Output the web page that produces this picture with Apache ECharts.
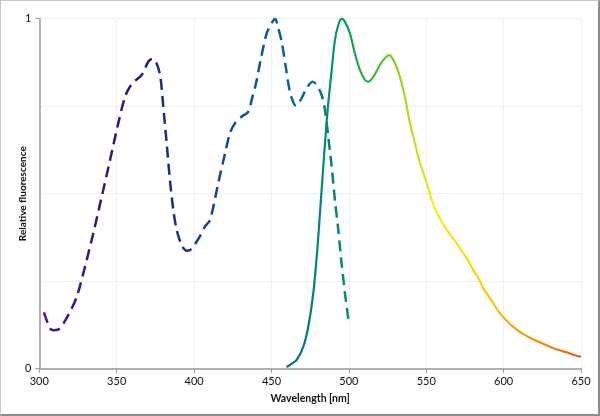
<!DOCTYPE html>
<html>
<head>
<meta charset="utf-8">
<script src="https://cdn.jsdelivr.net/npm/echarts@6/dist/echarts.min.js"></script>
<style>
html,body{margin:0;padding:0;background:#fff;}
#frame{position:absolute;left:0;top:0;width:600px;height:416px;box-sizing:border-box;border-top:1px solid #c8c8c8;border-left:1px solid #c8c8c8;border-right:2px solid #8c8c8c;border-bottom:2px solid #8c8c8c;}
#chart{position:absolute;left:0;top:0;width:600px;height:416px;}
</style>
</head>
<body>
<div id="chart"></div>
<div id="frame"></div>
<script>
// Excitation spectrum (dashed)
const excitationWavelength = [303.0,306.9,309.0,312.3,318.7,324.2,329.5,334.9,340.3,345.7,351.0,355.4,358.6,361.8,366.1,370.4,372.6,374.7,378.0,380.1,382.3,384.4,386.6,388.8,392.0,395.2,397.4,400.6,404.0,407.0,410.3,415.6,420.0,423.2,426.4,430.7,435.0,437.2,440.0,443.0,446.9,450.1,452.3,454.4,456.6,459.4,462.0,465.8,469.5,472.7,476.6,479.2,482.4,484.6,486.7,488.9,491.0,493.2,495.3,497.5,500.0];
const excitationValue = [0.161,0.115,0.110,0.112,0.153,0.206,0.291,0.387,0.491,0.596,0.701,0.777,0.806,0.822,0.839,0.877,0.884,0.882,0.839,0.749,0.644,0.539,0.453,0.396,0.353,0.337,0.339,0.356,0.380,0.406,0.425,0.530,0.615,0.673,0.701,0.720,0.734,0.768,0.815,0.882,0.958,0.987,1.0,0.973,0.934,0.858,0.791,0.751,0.773,0.801,0.820,0.811,0.782,0.739,0.663,0.577,0.482,0.396,0.301,0.215,0.130];
// Emission spectrum (solid)
const emissionWavelength = [459.8,463.0,466.3,470.6,473.8,477.0,479.6,481.8,484.1,486.3,488.9,491.0,493.2,495.3,497.5,500.7,503.9,507.2,510.4,512.5,515.8,520.1,523.3,526.1,529.8,533.0,536.2,539.5,542.7,545.5,550.3,554.5,557.0,561.0,565.0,569.6,573.9,576.1,580.4,583.6,586.8,589.0,593.3,596.5,600.0,604.0,608.4,613.0,619.1,624.0,629.9,635.0,640.7,645.0,650.0];
const emissionValue = [0.005,0.014,0.025,0.063,0.120,0.215,0.339,0.473,0.615,0.739,0.853,0.939,0.982,1.0,0.991,0.958,0.901,0.853,0.825,0.820,0.834,0.868,0.887,0.896,0.873,0.834,0.777,0.701,0.644,0.595,0.530,0.470,0.445,0.412,0.386,0.358,0.330,0.316,0.282,0.260,0.230,0.215,0.187,0.165,0.146,0.128,0.112,0.098,0.084,0.074,0.063,0.054,0.047,0.040,0.034];
const xTicks = [300,350,400,450,500,550,600,650];
const yTicks = [0,1];
const excitationColors = ['#4b1686','#34197e','#1c2074','#1a3a8c','#0f50a0','#0a6598','#0a9060'];
const emissionColors = ['#10608a','#00867a','#06a055','#4ab23a','#a8d824','#f2f01c','#f5e012','#f4c410','#f0a614','#ea8214','#e05a14'];

const pairs = (xs, ys) => xs.map((x, i) => [x, ys[i]]);
const font = 'Lato, "Open Sans", sans-serif';

const chart = echarts.init(document.getElementById('chart'), null, {renderer: 'canvas'});
chart.setOption({
  animation: false,
  backgroundColor: '#fff',
  grid: {left: 39.3, right: 19, top: 18.7, bottom: 47.3, containLabel: false, outerBoundsMode: 'none'},
  xAxis: {
    type: 'value', min: xTicks[0], max: xTicks[xTicks.length - 1], interval: 50,
    name: 'Wavelength [nm]', nameLocation: 'middle', nameGap: 24, nameMoveOverlap: false,
    nameTextStyle: {fontFamily: font, fontWeight: 'bold', fontSize: 10.5, color: '#111'},
    axisLine: {lineStyle: {color: '#9a9a9a', width: 1.5}},
    axisTick: {show: true, length: 4, lineStyle: {color: '#9a9a9a'}},
    axisLabel: {fontFamily: font, fontSize: 11, color: '#111', margin: 7},
    splitLine: {show: true, lineStyle: {color: '#f0f0f0', width: 1}}
  },
  yAxis: {
    type: 'value', min: yTicks[0], max: yTicks[1], interval: 1,
    name: 'Relative fluorescence', nameLocation: 'middle', nameGap: 12, nameMoveOverlap: false,
    nameTextStyle: {fontFamily: font, fontWeight: 'bold', fontSize: 10, color: '#111'},
    axisLine: {show: true, lineStyle: {color: '#9a9a9a', width: 1.5}},
    axisTick: {show: true, length: 4, lineStyle: {color: '#9a9a9a'}},
    axisLabel: {fontFamily: font, fontSize: 11, color: '#111', margin: 8},
    splitLine: {show: true, lineStyle: {color: '#f0f0f0', width: 1}},
    minorTick: {show: false, splitNumber: 4},
    minorSplitLine: {show: true, lineStyle: {color: '#f0f0f0', width: 1}}
  },
  visualMap: [
    {show: false, type: 'continuous', seriesIndex: 0, dimension: 0, min: 300, max: 500, inRange: {color: excitationColors}},
    {show: false, type: 'continuous', seriesIndex: 1, dimension: 0, min: 460, max: 650, inRange: {color: emissionColors}}
  ],
  series: [
    {
      type: 'line', data: pairs(excitationWavelength, excitationValue),
      showSymbol: false, smooth: 0.3,
      lineStyle: {width: 2.5, type: [11, 6]}
    },
    {
      type: 'line', data: pairs(emissionWavelength, emissionValue),
      showSymbol: false, smooth: 0.3,
      lineStyle: {width: 2.2, type: 'solid'}
    }
  ]
});
</script>
</body>
</html>
